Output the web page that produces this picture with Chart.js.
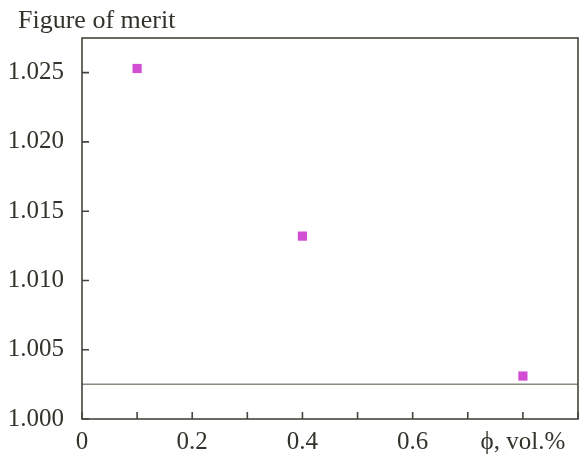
<!DOCTYPE html>
<html>
<head>
<meta charset="utf-8">
<script src="https://cdn.jsdelivr.net/npm/chart.js@4.4.1/dist/chart.umd.min.js"></script>
<style>
  html, body { margin: 0; padding: 0; background: #fff; }
  #wrap { width: 588px; height: 456px; }
</style>
</head>
<body>
<div id="wrap"><canvas id="merit"></canvas></div>
<script>
// figure of merit vs nanoparticle volume fraction
const phi = [0.1, 0.4, 0.8];
const merit = [1.0253, 1.0132, 1.0031];
const baseLevel = 1.0025;
const xRange = [0, 0.9];
const yRange = [1.0, 1.0275];
const yStep = 0.005;

const FRAME = "#45453c";
const TEXT = "#33332b";
const SERIF = "'Liberation Serif', 'DejaVu Serif', serif";

// only ticks sitting on a whole step get a mark and a label
const onStep = v => Math.abs(v / yStep - Math.round(v / yStep)) < 1e-6;

// box round the plot area plus short inward tick marks
const frameTicks = {
  id: "frameTicks",
  afterDraw(chart) {
    const { ctx, chartArea: a, scales } = chart;
    ctx.save();
    ctx.strokeStyle = FRAME;
    ctx.lineWidth = 1.6;
    ctx.strokeRect(a.left, a.top, a.right - a.left, a.bottom - a.top);
    ctx.beginPath();
    scales.x.ticks.forEach(t => {
      const px = scales.x.getPixelForValue(t.value);
      ctx.moveTo(px, a.bottom);
      ctx.lineTo(px, a.bottom - 7);
    });
    scales.y.ticks.filter(t => onStep(t.value)).forEach(t => {
      const py = scales.y.getPixelForValue(t.value);
      ctx.moveTo(a.left, py);
      ctx.lineTo(a.left + 7, py);
    });
    ctx.stroke();
    // axis title above the y scale
    ctx.fillStyle = TEXT;
    ctx.font = "26px " + SERIF;
    ctx.textBaseline = "alphabetic";
    ctx.fillText("Figure of merit", 18, 28);
    ctx.restore();
  },
};

const ctx = document.getElementById("merit").getContext("2d");
new Chart(ctx, {
  type: "scatter",
  data: {
    datasets: [
      {
        label: "base",
        type: "line",
        data: [
          { x: xRange[0], y: baseLevel },
          { x: xRange[1], y: baseLevel },
        ],
        borderColor: "#8c8c80",
        borderWidth: 1.5,
        pointRadius: 0,
      },
      {
        label: "merit",
        data: phi.map((p, i) => ({ x: p, y: merit[i] })),
        pointStyle: "rect",
        pointRadius: 6.5,
        backgroundColor: "#d24ed2",
        borderColor: "#d24ed2",
        borderWidth: 0,
      },
    ],
  },
  options: {
    responsive: true,
    maintainAspectRatio: false,
    animation: false,
    layout: { padding: { top: 38, right: 10 } },
    plugins: {
      legend: { display: false },
      tooltip: { enabled: false },
    },
    scales: {
      x: {
        type: "linear",
        min: xRange[0],
        max: xRange[1],
        grid: { display: false },
        border: { display: false },
        afterFit: s => { s.height = 37; },
        ticks: {
          stepSize: 0.1,
          autoSkip: false,
          maxRotation: 0,
          padding: 0,
          color: TEXT,
          font: { family: SERIF, size: 25 },
          callback: value => {
            const v = Math.round(value * 10);
            if (v % 2 || v > 8) return "";
            if (v === 8) return "ϕ, vol.%";
            if (v === 0) return "0";
            return (v / 10).toFixed(1);
          },
        },
      },
      y: {
        min: yRange[0],
        max: yRange[1],
        grid: { display: false },
        border: { display: false },
        afterFit: s => { s.width = 82; },
        ticks: {
          stepSize: yStep,
          padding: 10,
          color: TEXT,
          font: { family: SERIF, size: 25 },
          callback: value => (onStep(value) ? value.toFixed(3) : ""),
        },
      },
    },
  },
  plugins: [frameTicks],
});
</script>
</body>
</html>
